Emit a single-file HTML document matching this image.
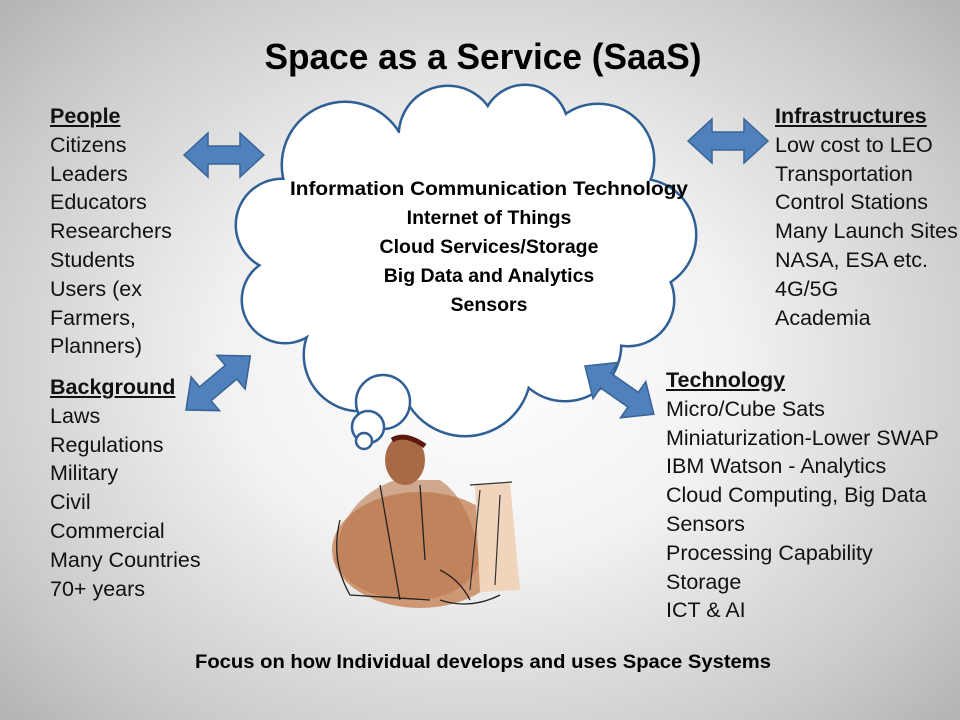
<!DOCTYPE html>
<html><head><meta charset="utf-8"><style>
html,body{margin:0;padding:0}
body{width:960px;height:720px;overflow:hidden;position:relative;font-family:"Liberation Sans",sans-serif;
background:radial-gradient(ellipse 75% 80% at 50% 50%,#ffffff 0%,#f2f2f2 35%,#c8c8c8 75%,#a8a8a8 100%);}
.t{position:absolute;font-size:21.5px;line-height:28.8px;color:#111;white-space:nowrap}
.t u{text-decoration:underline;font-weight:bold}
</style></head><body>
<svg width="960" height="720" style="position:absolute;left:0;top:0">
<defs>
<g id="c">
<circle cx="345" cy="165" r="62"/><circle cx="448" cy="135" r="48"/><circle cx="525" cy="128" r="42"/>
<circle cx="598" cy="160" r="55"/><circle cx="640" cy="235" r="55"/><circle cx="628" cy="300" r="45"/>
<circle cx="565" cy="345" r="55"/><circle cx="465" cy="370" r="65"/><circle cx="360" cy="355" r="55"/>
<circle cx="285" cy="300" r="42"/><circle cx="282" cy="225" r="45"/>
<ellipse cx="465" cy="255" rx="190" ry="130"/>
</g>
<g id="arr"><polygon points="0,0 24,-22 24,-9 56,-9 56,-22 80,0 56,22 56,9 24,9 24,22"/></g>
</defs>
<g fill="none" stroke="#2f5f94" stroke-width="5"><use href="#c"/></g>
<g fill="#fff"><use href="#c"/></g>
<g fill="#fff" stroke="#2f5f94" stroke-width="2.5">
<circle cx="383" cy="402" r="27"/><circle cx="368" cy="427" r="16"/><circle cx="364" cy="441" r="8"/>
</g>
<g fill="#4f81bd" stroke="#3a6496" stroke-width="1.5">
<use href="#arr" transform="translate(184,155)"/>
<use href="#arr" transform="translate(688,141)"/>
<use href="#arr" transform="translate(186,410) rotate(-40) scale(1.05,1)"/>
<use href="#arr" transform="translate(585,366) rotate(35) scale(1.05,1)"/>
</g>
<g>
<ellipse cx="420" cy="550" rx="88" ry="58" fill="#c98a60" opacity="0.85"/>
<path d="M335,560 Q340,500 395,480 L440,480 Q470,500 480,560 Q470,595 420,600 Q350,600 335,560Z" fill="#b8754a" opacity="0.6"/>
<ellipse cx="405" cy="460" rx="20" ry="25" fill="#a86a45"/>
<path d="M392,440 Q405,432 425,446" stroke="#5a1a10" stroke-width="5" fill="none"/>
<path d="M475,485 L510,483 L520,590 L480,592Z" fill="#f0d4bb"/>
<path d="M470,485 L512,482 M480,490 L470,590 M500,495 L495,585" stroke="#333" stroke-width="1.2" fill="none"/>
<path d="M340,520 Q330,560 350,595 L430,600 M380,485 L400,600 M420,485 L425,560 M440,570 Q460,580 470,600 M440,600 Q470,610 500,595" stroke="#222" stroke-width="1.3" fill="none"/>
</g>
<g font-family="Liberation Sans,sans-serif" font-weight="bold" fill="#000" text-anchor="middle">
<text x="483" y="69" font-size="36" textLength="437" lengthAdjust="spacingAndGlyphs">Space as a Service (SaaS)</text>
<g font-size="19.5">
<text x="489" y="195" textLength="398" lengthAdjust="spacingAndGlyphs">Information Communication Technology</text>
<text x="489" y="224">Internet of Things</text>
<text x="489" y="253">Cloud Services/Storage</text>
<text x="489" y="282">Big Data and Analytics</text>
<text x="489" y="311">Sensors</text>
<text x="483" y="668" textLength="576" lengthAdjust="spacingAndGlyphs">Focus on how Individual develops and uses Space Systems</text>
</g>
</g>
</svg>
<div class="t" style="left:50px;top:102px"><u>People</u><br>Citizens<br>Leaders<br>Educators<br>Researchers<br>Students<br>Users (ex<br>Farmers,<br>Planners)</div>
<div class="t" style="left:50px;top:373px"><u>Background</u><br>Laws<br>Regulations<br>Military<br>Civil<br>Commercial<br>Many Countries<br>70+ years</div>
<div class="t" style="left:775px;top:102px"><u>Infrastructures</u><br>Low cost to LEO<br>Transportation<br>Control Stations<br>Many Launch Sites<br>NASA, ESA etc.<br>4G/5G<br>Academia</div>
<div class="t" style="left:666px;top:366px"><u>Technology</u><br>Micro/Cube Sats<br>Miniaturization-Lower SWAP<br>IBM Watson - Analytics<br>Cloud Computing, Big Data<br>Sensors<br>Processing Capability<br>Storage<br>ICT &amp; AI</div>
</body></html>
